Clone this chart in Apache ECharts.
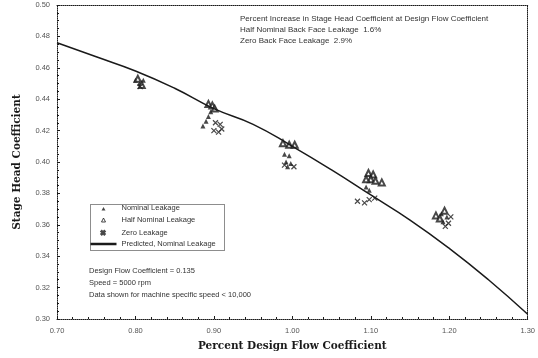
<!DOCTYPE html>
<html>
<head>
<meta charset="utf-8">
<script src="https://cdn.jsdelivr.net/npm/echarts@6/dist/echarts.min.js"></script>
<style>
  html, body { margin: 0; padding: 0; background: #fff; }
  #chart { width: 538px; height: 358px; }
</style>
</head>
<body>
<div id="chart"></div>
<script>
// values
const xTicks = ['0.70', '0.80', '0.90', '1.00', '1.10', '1.20', '1.30'];
const yTicks = ['0.30', '0.32', '0.34', '0.36', '0.38', '0.40', '0.42', '0.44', '0.46', '0.48', '0.50'];

const nominalLeakage = [
  [0.800, 0.452], [0.805, 0.450], [0.810, 0.452],
  [0.896, 0.432], [0.893, 0.429], [0.890, 0.426], [0.886, 0.423],
  [0.990, 0.405], [0.996, 0.404], [0.992, 0.400], [0.998, 0.399], [0.994, 0.397],
  [1.094, 0.384], [1.098, 0.382],
  [1.190, 0.367], [1.197, 0.365], [1.192, 0.362]
];
const halfNominalLeakage = [
  [0.803, 0.453], [0.808, 0.449],
  [0.893, 0.437], [0.898, 0.436], [0.901, 0.434],
  [0.988, 0.412], [0.996, 0.411], [1.003, 0.411],
  [1.097, 0.393], [1.103, 0.392], [1.100, 0.389], [1.106, 0.388], [1.094, 0.389], [1.114, 0.387],
  [1.183, 0.366], [1.194, 0.369], [1.188, 0.364]
];
const zeroLeakage = [
  [0.806, 0.448],
  [0.902, 0.425], [0.908, 0.424], [0.900, 0.420], [0.906, 0.419], [0.910, 0.421],
  [1.002, 0.397], [0.990, 0.398],
  [1.083, 0.375], [1.092, 0.374], [1.098, 0.376], [1.105, 0.377],
  [1.199, 0.361], [1.202, 0.365], [1.195, 0.359]
];
const predicted = [
  [0.70, 0.476], [0.75, 0.467], [0.80, 0.458], [0.85, 0.447], [0.90, 0.434],
  [0.95, 0.424], [1.00, 0.410], [1.05, 0.395], [1.10, 0.379], [1.15, 0.363],
  [1.20, 0.345], [1.25, 0.325], [1.30, 0.303]
];

const increaseNotes = [
  'Percent Increase in Stage Head Coefficient at Design Flow Coefficient',
  'Half Nominal Back Face Leakage  1.6%',
  'Zero Back Face Leakage  2.9%'
];
const designNotes = [
  'Design Flow Coefficient = 0.135',
  'Speed = 5000 rpm',
  'Data shown for machine specific speed < 10,000'
];

const crossPath = 'path://M0,0L10,10M10,0L0,10';
const ink = '#1a1a1a';
const font = 'Liberation Sans';

// legend icons: symbol centred inside the 26x6 legend slot
const legendTriangle = 'path://M0,0M26,6M11,5.5L13,2L15,5.5Z';
const legendEmptyTriangle = 'path://M0,0M26,6M11,5.5L13,1.5L15,5.5Z';
const legendCross = 'path://M0,0M26,6M11.3,1.5L14.3,4.5L13.8,5L10.8,2ZM14.3,2L13.8,1.5L10.8,4.5L11.3,5Z';
const legendLine = 'path://M0,0H26V2.5H0Z';

const myChart = echarts.init(document.getElementById('chart'));

const dotted = { color: ink, width: 1, type: [1, 1] };

const option = {
  animation: false,
  backgroundColor: '#fff',
  textStyle: { fontFamily: font },
  grid: { left: 57, right: 10, top: 5, bottom: 39 },
  legend: {
    orient: 'vertical',
    left: 88,
    top: 203,
    itemWidth: 26,
    itemHeight: 6,
    itemGap: 2,
    padding: [1, 2, 1, 0],
    textStyle: { fontSize: 7.5, color: '#333', fontFamily: font },
    data: [
      { name: 'Nominal Leakage', icon: legendTriangle },
      {
        name: 'Half Nominal Leakage', icon: legendEmptyTriangle,
        itemStyle: { color: 'none', borderColor: ink, borderWidth: 1 }
      },
      { name: 'Zero Leakage', icon: legendCross },
      { name: 'Predicted, Nominal Leakage', icon: legendLine }
    ]
  },
  xAxis: [
    {
      type: 'value', min: 0.7, max: 1.3, interval: 0.1,
      name: 'Percent Design Flow Coefficient',
      nameLocation: 'middle', nameGap: 22,
      nameTextStyle: { fontSize: 10.5, fontWeight: 'bold', color: ink, fontFamily: 'DejaVu Serif' },
      axisLine: { lineStyle: dotted },
      axisTick: { inside: true, length: 3, lineStyle: { color: ink } },
      minorTick: { show: true, splitNumber: 5, length: 2, lineStyle: { color: ink } },
      axisLabel: {
        fontSize: 7.5, color: '#555', margin: 8,
        formatter: v => xTicks.find(t => Math.abs(parseFloat(t) - v) < 1e-6) || ''
      },
      splitLine: { show: false }
    },
    {
      type: 'value', min: 0.7, max: 1.3, position: 'top',
      axisLine: { show: true, lineStyle: dotted },
      axisTick: { show: false }, axisLabel: { show: false }, splitLine: { show: false }
    }
  ],
  yAxis: [
    {
      type: 'value', min: 0.3, max: 0.5, interval: 0.02,
      name: 'Stage Head Coefficient',
      nameLocation: 'middle', nameGap: 34,
      nameTextStyle: { fontSize: 10.5, fontWeight: 'bold', color: ink, fontFamily: 'DejaVu Serif' },
      axisLine: { lineStyle: dotted },
      axisTick: { inside: true, length: 3, lineStyle: { color: ink } },
      minorTick: { show: true, splitNumber: 4, length: 2, lineStyle: { color: ink } },
      axisLabel: {
        fontSize: 7.5, color: '#555', margin: 7,
        formatter: v => yTicks.find(t => Math.abs(parseFloat(t) - v) < 1e-6) || ''
      },
      splitLine: { show: false }
    },
    {
      type: 'value', min: 0.3, max: 0.5, position: 'right',
      axisLine: { show: true, lineStyle: dotted },
      axisTick: { show: false }, axisLabel: { show: false }, splitLine: { show: false }
    }
  ],
  graphic: [
    {
      type: 'rect', left: 88, top: 202,
      shape: { width: 134, height: 46 },
      style: { fill: 'none', stroke: ink, lineWidth: 1, lineDash: [1, 1] },
      z: 10
    },
    {
      type: 'text', left: 240, top: 13,
      style: { text: increaseNotes.join('\n'), fontSize: 8, lineHeight: 11, fill: '#333', fontFamily: font }
    },
    {
      type: 'text', left: 89, top: 265,
      style: { text: designNotes.join('\n'), fontSize: 7.5, lineHeight: 12, fill: '#333', fontFamily: font }
    }
  ],
  series: [
    {
      name: 'Nominal Leakage', type: 'scatter', symbol: 'triangle', symbolSize: 5,
      itemStyle: { color: ink }, data: nominalLeakage
    },
    {
      name: 'Half Nominal Leakage', type: 'scatter', symbol: 'emptyTriangle', symbolSize: 6,
      itemStyle: { color: ink, borderColor: ink, borderWidth: 1 }, data: halfNominalLeakage
    },
    {
      name: 'Zero Leakage', type: 'scatter', symbol: crossPath, symbolSize: 5,
      itemStyle: { color: 'none', borderColor: ink, borderWidth: 1.2 }, data: zeroLeakage
    },
    {
      name: 'Predicted, Nominal Leakage', type: 'line', smooth: true, symbol: 'none',
      lineStyle: { color: ink, width: 1.5 }, itemStyle: { color: ink }, data: predicted
    }
  ]
};

myChart.setOption(option);
</script>
</body>
</html>
